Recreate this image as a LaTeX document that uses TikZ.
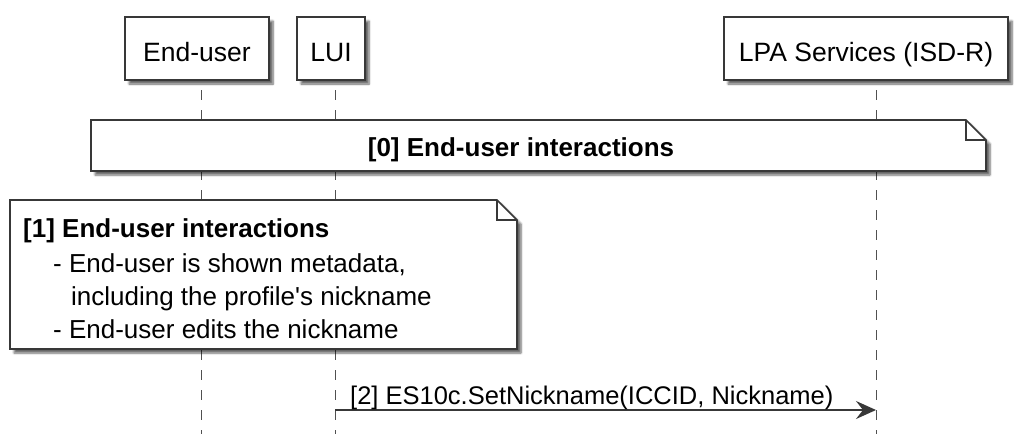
\documentclass[tikz,border=0pt]{standalone}
\usepackage{fontspec}
\setmainfont{Liberation Sans}
\usetikzlibrary{arrows.meta,shadows.blur}

\definecolor{linegray}{HTML}{383838}
\definecolor{lifegray}{HTML}{505050}

\tikzset{
  shade/.style={blur shadow={shadow xshift=4pt,shadow yshift=-4pt,shadow blur steps=6,shadow opacity=60}},
  party/.style={draw=linegray,line width=1.6pt,fill=white,shade,inner sep=0pt,
    text height=25pt,text depth=0pt,font=\fontsize{26.5}{30}\selectfont},
  lifeline/.style={draw=lifegray,line width=1pt,dash pattern=on 10pt off 10pt,dash phase=10pt},
  notebox/.style={draw=linegray,line width=1.6pt,fill=white,shade,line join=miter},
  notefold/.style={draw=linegray,line width=1.6pt},
  notetext/.style={inner sep=0pt,font=\fontsize{26}{33}\selectfont},
  msg/.style={draw=linegray,line width=1.6pt,-{Stealth[length=20pt,width=18pt,inset=7pt]}}
}

\begin{document}
\begin{tikzpicture}[x=1pt,y=-1pt]
  \useasboundingbox (0,0) rectangle (1014,434);

  % participants
  \node[party,minimum width=144pt,minimum height=63pt] (eu) at (197,48.5) {End-user};
  \node[party,minimum width=68pt,minimum height=63pt] (lui) at (331,48.5) {LUI};
  \node[party,minimum width=284pt,minimum height=63pt] (lpa) at (866,48.5) {LPA Services (ISD-R)};

  % lifelines
  \coordinate (eu-ll) at (201,80);
  \coordinate (lui-ll) at (335,80);
  \coordinate (lpa-ll) at (876,80);
  \coordinate (bottom) at (0,434);
  \draw[lifeline] (eu-ll) -- (eu-ll |- bottom);
  \draw[lifeline] (lui-ll) -- (lui-ll |- bottom);
  \draw[lifeline] (lpa-ll) -- (lpa-ll |- bottom);

  % note [0]
  \draw[notebox] (91,120) -- (966,120) -- (986,140) -- (986,171) -- (91,171) -- cycle;
  \draw[notefold] (966,120) -- (966,140) -- (986,140);
  \node[notetext,font=\fontsize{26}{33}\selectfont\bfseries,anchor=base] (note0) at (521,156)
    {[0] End-user interactions};

  % note [1]
  \draw[notebox] (10,200) -- (497,200) -- (517,220) -- (517,349) -- (10,349) -- cycle;
  \draw[notefold] (497,200) -- (497,220) -- (517,220);
  \node[notetext,align=left,anchor=north west] (note1) at (23,218)
    {\textbf{[1] End-user interactions}\\[2pt]
     \hspace*{30pt}- End-user is shown metadata,\\
     \hspace*{48pt}including the profile\textquotesingle s nickname\\
     \hspace*{30pt}- End-user edits the nickname};

  % message [2]
  \coordinate (msg-start) at (lui-ll |- 0,410);
  \draw[msg] (msg-start) -- (msg-start -| lpa-ll);
  \node[notetext,font=\fontsize{25.5}{30}\selectfont,anchor=base west] (msg-label) at (350,404)
    {[2] ES10c.SetNickname(ICCID, Nickname)};
\end{tikzpicture}
\end{document}
